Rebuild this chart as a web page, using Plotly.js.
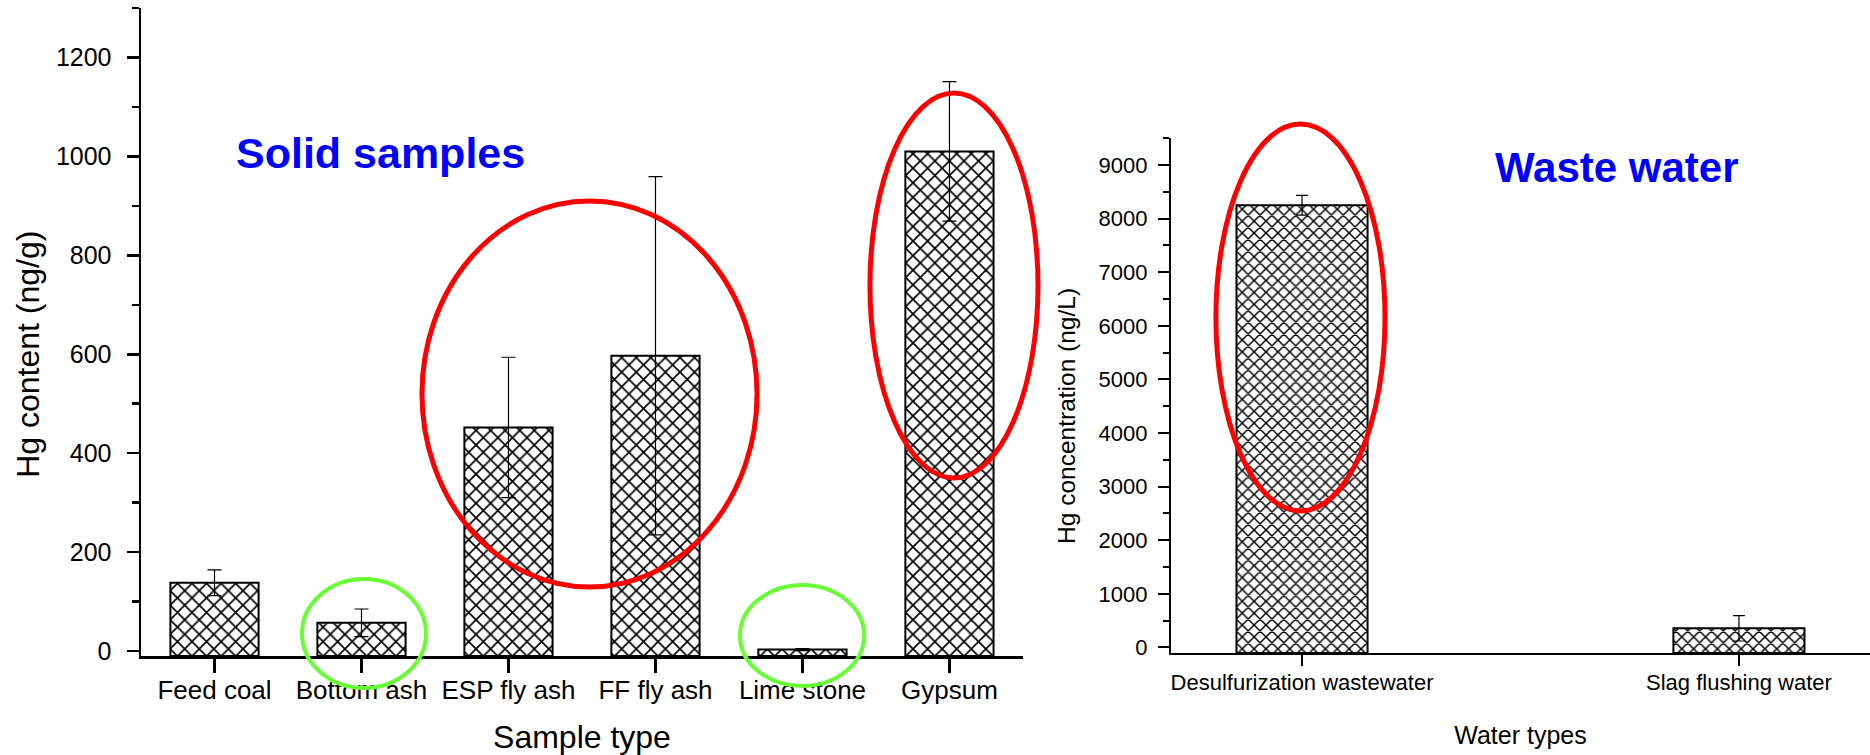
<!DOCTYPE html>
<html>
<head>
<meta charset="utf-8">
<script src="https://cdn.plot.ly/plotly-3.0.1.min.js"></script>
<style>
  html, body { margin: 0; padding: 0; background: #ffffff; }
  #chart { width: 1870px; height: 755px; }
</style>
</head>
<body>
<div id="chart"></div>
<script>
// ---- Data ----
const solidCategories = ['Feed coal', 'Bottom ash', 'ESP fly ash', 'FF fly ash', 'Lime stone', 'Gypsum'];
const solidValues = [138, 57, 452, 597, 3, 1010];
const solidErrors = [26, 28, 142, 362, 2, 141];

const waterCategories = ['Desulfurization wastewater', 'Slag flushing water'];
const waterValues = [8250, 355];
const waterErrors = [185, 236];

// axis baselines (bars start at the bottom axis line, as in Origin)
const solidBase = -10;
const waterBase = -105;

const FONT = 'Liberation Sans, Arial, Helvetica, sans-serif';
// trailing padding (non-breaking spaces + zero-width space so it is not trimmed)
function pad(n) { return '\u00A0'.repeat(n) + '\u200B'; }

const solidTrace = {
  type: 'bar',
  x: solidCategories,
  y: solidValues.map(v => v - solidBase),
  base: solidBase,
  width: 0.6,
  xaxis: 'x', yaxis: 'y',
  marker: {
    color: 'white',
    line: { color: 'black', width: 2 },
    pattern: { shape: 'x', size: 10.3, solidity: 0.3, fgcolor: 'black', bgcolor: 'white', fgopacity: 1 }
  },
  error_y: { type: 'data', array: solidErrors, visible: true, color: 'black', thickness: 1.2, width: 7 },
  showlegend: false,
  hoverinfo: 'skip'
};

const waterTrace = {
  type: 'bar',
  x: waterCategories,
  y: waterValues.map(v => v - waterBase),
  base: waterBase,
  width: 0.3,
  xaxis: 'x2', yaxis: 'y2',
  marker: {
    color: 'white',
    line: { color: 'black', width: 2 },
    pattern: { shape: 'x', size: 8.4, solidity: 0.32, fgcolor: 'black', bgcolor: 'white', fgopacity: 1 }
  },
  error_y: { type: 'data', array: waterErrors, visible: true, color: 'black', thickness: 1.2, width: 6 },
  showlegend: false,
  hoverinfo: 'skip'
};

// ellipse helper (paper coordinates)
function ellipse(x0, x1, y0, y1, color, w) {
  return { type: 'circle', xref: 'paper', yref: 'paper', x0: x0, x1: x1, y0: y0, y1: y1,
           line: { color: color, width: w }, fillcolor: 'rgba(0,0,0,0)', layer: 'above' };
}
const RED = '#ff0000';
const GREEN = '#66ff33';

const layout = {
  width: 1870, height: 755,
  margin: { l: 141, r: 0, t: 8, b: 99, pad: 0 },
  paper_bgcolor: 'white', plot_bgcolor: 'white',
  font: { family: FONT, color: 'black' },
  bargap: 0.4,
  xaxis: {
    domain: [0, 0.5101],
    type: 'category',
    range: [-0.5, 5.5],
    anchor: 'y',
    showline: true, linecolor: 'black', linewidth: 2.5,
    ticks: 'outside', ticklen: 14, tickwidth: 2.5, tickcolor: 'black',
    showgrid: false, zeroline: false,
    tickfont: { size: 26, family: FONT },
    ticklabelstandoff: -5,
    title: { text: 'Sample type', font: { size: 32, family: FONT }, standoff: 24 }
  },
  yaxis: {
    domain: [0, 1],
    range: [-10, 1300],
    anchor: 'x',
    showline: true, linecolor: 'black', linewidth: 2.5,
    ticks: 'outside', ticklen: 12, tickwidth: 2.5, tickcolor: 'black',
    dtick: 200, tick0: 0,
    minor: { dtick: 100, ticks: 'outside', ticklen: 7, tickwidth: 2.5, tickcolor: 'black', showgrid: false },
    showgrid: false, zeroline: false,
    tickfont: { size: 25, family: FONT },
    ticklabelstandoff: 10,
    title: { text: 'Hg content (ng/g)' + pad(5), font: { size: 32, family: FONT }, standoff: 7 }
  },
  xaxis2: {
    domain: [0.5957, 1],
    type: 'category',
    range: [-0.3, 1.3],
    anchor: 'y2',
    showline: true, linecolor: 'black', linewidth: 2,
    ticks: 'outside', ticklen: 11, tickwidth: 2, tickcolor: 'black',
    showgrid: false, zeroline: false,
    tickfont: { size: 22, family: FONT },
    ticklabelstandoff: -2,
    title: { text: 'Water types', font: { size: 25, family: FONT }, standoff: 32 }
  },
  yaxis2: {
    domain: [0.0046, 0.7994],
    range: [-105, 9505],
    anchor: 'x2',
    showline: true, linecolor: 'black', linewidth: 2,
    ticks: 'outside', ticklen: 11, tickwidth: 2, tickcolor: 'black',
    dtick: 1000, tick0: 0,
    minor: { dtick: 500, ticks: 'outside', ticklen: 6, tickwidth: 2, tickcolor: 'black', showgrid: false },
    showgrid: false, zeroline: false,
    tickfont: { size: 22, family: FONT },
    ticklabelstandoff: 6,
    title: { text: 'Hg concentration (ng/L)' + pad(6), font: { size: 24.5, family: FONT }, standoff: 16 }
  },
  annotations: [
    { text: '<b>Solid samples</b>', xref: 'paper', yref: 'paper', x: 0.1388, y: 0.776,
      xanchor: 'center', yanchor: 'middle', showarrow: false,
      font: { size: 43, color: '#0000ff', family: FONT } },
    { text: '<b>Waste water</b>', xref: 'paper', yref: 'paper', x: 0.8537, y: 0.7546,
      xanchor: 'center', yanchor: 'middle', showarrow: false,
      font: { size: 42, color: '#0000ff', family: FONT } }
  ],
  shapes: [
    ellipse(0.1625, 0.3563, 0.1065, 0.7022, RED, 5),
    ellipse(0.4216, 0.5188, 0.2747, 0.8688, RED, 5),
    ellipse(0.0931, 0.1648, -0.0494, 0.1188, GREEN, 4),
    ellipse(0.3464, 0.4182, -0.0463, 0.1096, GREEN, 4),
    ellipse(0.6217, 0.7195, 0.2238, 0.8210, RED, 5)
  ]
};

Plotly.newPlot('chart', [solidTrace, waterTrace], layout, { staticPlot: true, displayModeBar: false });
</script>
</body>
</html>
